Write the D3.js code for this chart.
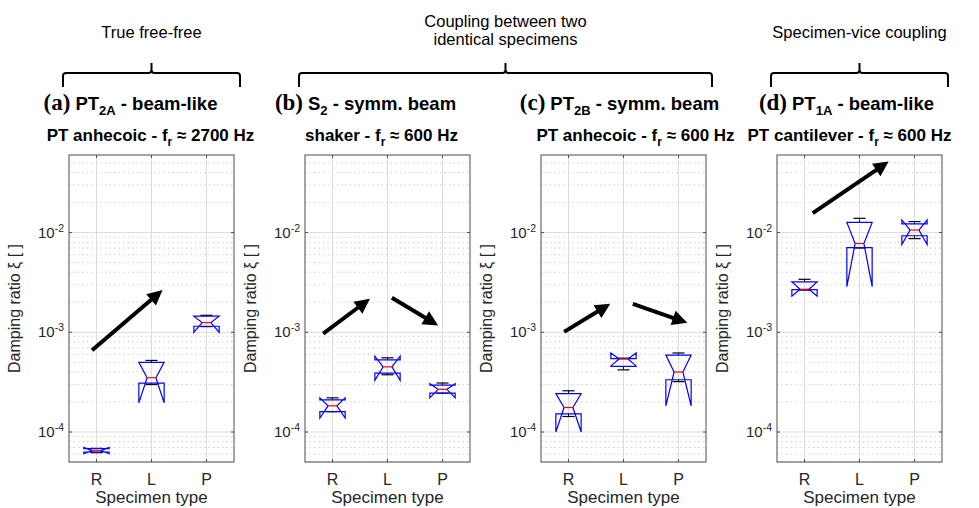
<!DOCTYPE html>
<html>
<head>
<meta charset="utf-8">
<script src="https://cdn.jsdelivr.net/npm/d3@7"></script>
<style>
  body { margin: 0; background: #fff; }
  text { font-family: "Liberation Sans", Arial, sans-serif; fill: #262626; }
</style>
</head>
<body>
<div id="chart"></div>
<script>
// specimen types on the x axis
const categories = ["R", "L", "P"];

// box stats, one row per specimen type:
// [whisker low, q1, median, q3, whisker high, notch low, notch high]
const boxesA = [
  [6.2e-5, 6.3e-5, 6.5e-5, 6.8e-5, 6.85e-5, 6.05e-5, 7.0e-5],
  [2.99e-4, 3.09e-4, 3.5e-4, 4.99e-4, 5.22e-4, 1.96e-4, 4.99e-4],
  [1.14e-3, 1.15e-3, 1.25e-3, 1.45e-3, 1.48e-3, 1.0e-3, 1.45e-3],
];
const boxesB = [
  [1.6e-4, 1.6e-4, 1.83e-4, 2.1e-4, 2.2e-4, 1.38e-4, 2.2e-4],
  [3.75e-4, 3.9e-4, 4.5e-4, 5.3e-4, 5.55e-4, 3.3e-4, 5.75e-4],
  [2.45e-4, 2.45e-4, 2.68e-4, 2.95e-4, 3.1e-4, 2.2e-4, 3.05e-4],
];
const boxesC = [
  [1.43e-4, 1.52e-4, 1.76e-4, 2.43e-4, 2.59e-4, 1.0e-4, 2.43e-4],
  [4.2e-4, 4.55e-4, 5.4e-4, 5.45e-4, 5.5e-4, 4.6e-4, 6.2e-4],
  [3.2e-4, 3.34e-4, 4.0e-4, 5.9e-4, 6.2e-4, 1.83e-4, 5.9e-4],
];
const boxesD = [
  [2.65e-3, 2.68e-3, 2.7e-3, 3.2e-3, 3.4e-3, 2.3e-3, 3.2e-3],
  [7.0e-3, 7.08e-3, 7.77e-3, 1.265e-2, 1.39e-2, 2.87e-3, 1.265e-2],
  [8.7e-3, 9.3e-3, 1.06e-2, 1.22e-2, 1.29e-2, 7.6e-3, 1.34e-2],
];

// trend arrows: [x start, value start, x end, value end] (x in category units)
const arrowsA = [[0.92, 6.6e-4, 2.2, 2.65e-3]];
const arrowsB = [[0.83, 9.7e-4, 1.68, 2.17e-3], [2.08, 2.22e-3, 2.92, 1.17e-3]];
const arrowsC = [[0.92, 1.01e-3, 1.76, 1.93e-3], [2.17, 1.93e-3, 3.16, 1.245e-3]];
const arrowsD = [[1.15, 1.57e-2, 2.53, 5.15e-2]];

// panel titles
const panelLetters = ["(a)", "(b)", "(c)", "(d)"];
const specimenNames = [["PT", "2A", " - beam-like"], ["S", "2", " - symm. beam"],
  ["PT", "2B", " - symm. beam"], ["PT", "1A", " - beam-like"]];
const setups = ["PT anhecoic", "shaker", "PT anhecoic", "PT cantilever"];
const frequencies = ["2700 Hz", "600 Hz", "600 Hz", "600 Hz"];

// group headers and which panels they span
const groupLabels = [["True free-free"], ["Coupling between two", "identical specimens"], ["Specimen-vice coupling"]];
const groupSpans = [[0, 0], [1, 2], [3, 3]];

const yTicks = [1e-4, 1e-3, 1e-2];
const yDomain = [5e-5, 0.06];

const config = {
  width: 979,
  height: 508,
  panelLeft: [69, 305, 541, 777],
  panelWidth: 165,
  top: 155,
  plotHeight: 307,
  titleShift1: [-21, -22, -4, -13],
  titleShift2: [-1, -6, 12, -10],
};

const svg = d3.select("#chart").append("svg")
  .attr("width", config.width)
  .attr("height", config.height);

const x = d3.scaleLinear().domain([0.5, 3.5]).range([0, config.panelWidth]);
const y = d3.scaleLog().domain(yDomain).range([config.plotHeight, 0]);

// minor grid values 2..9 x each decade inside the domain
const minorTicks = [];
[1e-5, 1e-4, 1e-3, 1e-2].forEach((d) => {
  for (let m = 2; m <= 9; m++) {
    const v = m * d;
    if (v > yDomain[0] * 0.999 && v < yDomain[1]) minorTicks.push(v);
  }
});

const panels = [
  { boxes: boxesA, arrows: arrowsA },
  { boxes: boxesB, arrows: arrowsB },
  { boxes: boxesC, arrows: arrowsC },
  { boxes: boxesD, arrows: arrowsD },
];

panels.forEach((p, i) => drawPanel(p, i));
drawGroups();

function drawPanel(p, i) {
  const left = config.panelLeft[i];
  const w = config.panelWidth;
  const h = config.plotHeight;
  const g = svg.append("g").attr("transform", `translate(${left},${config.top})`);

  // minor grid (dotted)
  g.selectAll(".minor").data(minorTicks).join("line")
    .attr("x1", 0).attr("x2", w)
    .attr("y1", (d) => y(d)).attr("y2", (d) => y(d))
    .attr("stroke", "#cfcfcf").attr("stroke-width", 1)
    .attr("stroke-dasharray", "1.5,3");

  // major grid
  g.selectAll(".major").data(yTicks).join("line")
    .attr("x1", 0).attr("x2", w)
    .attr("y1", (d) => y(d)).attr("y2", (d) => y(d))
    .attr("stroke", "#dcdcdc");
  g.selectAll(".vgrid").data(categories).join("line")
    .attr("x1", (d, k) => x(k + 1)).attr("x2", (d, k) => x(k + 1))
    .attr("y1", 0).attr("y2", h)
    .attr("stroke", "#dcdcdc");

  // axes box and inward ticks
  g.append("rect").attr("width", w).attr("height", h)
    .attr("fill", "none").attr("stroke", "#4d4d4d").attr("stroke-width", 1);
  yTicks.forEach((t) => {
    g.append("line").attr("x1", 0).attr("x2", 3).attr("y1", y(t)).attr("y2", y(t)).attr("stroke", "#4d4d4d");
    g.append("line").attr("x1", w - 3).attr("x2", w).attr("y1", y(t)).attr("y2", y(t)).attr("stroke", "#4d4d4d");
  });
  categories.forEach((c, k) => {
    g.append("line").attr("x1", x(k + 1)).attr("x2", x(k + 1)).attr("y1", h).attr("y2", h - 3).attr("stroke", "#4d4d4d");
    g.append("line").attr("x1", x(k + 1)).attr("x2", x(k + 1)).attr("y1", 0).attr("y2", 3).attr("stroke", "#4d4d4d");
  });

  // y tick labels 10^n
  yTicks.forEach((t) => {
    const txt = g.append("text")
      .attr("x", -5).attr("y", y(t) + 5)
      .attr("text-anchor", "end")
      .style("font-size", "15px");
    txt.append("tspan").text("10");
    txt.append("tspan").attr("dy", -6).style("font-size", "10.5px").text("-" + Math.round(-Math.log10(t)));
  });

  // x tick labels
  g.selectAll(".xlab").data(categories).join("text")
    .attr("x", (d, k) => x(k + 1)).attr("y", h + 23)
    .attr("text-anchor", "middle")
    .style("font-size", "16px")
    .text((d) => d);

  g.append("text")
    .attr("x", w / 2).attr("y", h + 41)
    .attr("text-anchor", "middle")
    .style("font-size", "17px")
    .text("Specimen type");

  g.append("text")
    .attr("transform", `translate(${-49},${h / 2}) rotate(-90)`)
    .attr("text-anchor", "middle")
    .style("font-size", "16px")
    .text("Damping ratio \u03BE [ ]");

  // notched boxes
  const hw = 0.23, nw = 0.08, cw = 0.11;
  p.boxes.forEach((b, k) => {
    const cx = k + 1;
    const [wlo, q1, med, q3, whi, nlo, nhi] = b;
    // whiskers
    g.append("line").attr("x1", x(cx)).attr("x2", x(cx)).attr("y1", y(q3)).attr("y2", y(whi))
      .attr("stroke", "#000").attr("stroke-dasharray", "3,2");
    g.append("line").attr("x1", x(cx)).attr("x2", x(cx)).attr("y1", y(q1)).attr("y2", y(wlo))
      .attr("stroke", "#000").attr("stroke-dasharray", "3,2");
    [wlo, whi].forEach((v) => {
      g.append("line").attr("x1", x(cx - cw)).attr("x2", x(cx + cw)).attr("y1", y(v)).attr("y2", y(v))
        .attr("stroke", "#000").attr("stroke-width", 1.2);
    });
    const pts = [
      [cx - hw, q1], [cx - hw, nlo], [cx - nw, med], [cx - hw, nhi], [cx - hw, q3],
      [cx + hw, q3], [cx + hw, nhi], [cx + nw, med], [cx + hw, nlo], [cx + hw, q1],
    ];
    g.append("path")
      .attr("d", d3.line().x((d) => x(d[0])).y((d) => y(d[1]))(pts) + "Z")
      .attr("fill", "none").attr("stroke", "#0000ff").attr("stroke-width", 1.2);
    g.append("line").attr("x1", x(cx - nw)).attr("x2", x(cx + nw)).attr("y1", y(med)).attr("y2", y(med))
      .attr("stroke", "#ff0000").attr("stroke-width", 1.2);
  });

  // arrows
  p.arrows.forEach((a) => {
    const x0 = x(a[0]), y0 = y(a[1]), x1 = x(a[2]), y1 = y(a[3]);
    const len = Math.hypot(x1 - x0, y1 - y0);
    const ux = (x1 - x0) / len, uy = (y1 - y0) / len;
    const headL = 15, headW = 7.5;
    const bx = x1 - ux * headL, by = y1 - uy * headL;
    g.append("line").attr("x1", x0).attr("y1", y0).attr("x2", bx + ux * 2).attr("y2", by + uy * 2)
      .attr("stroke", "#000").attr("stroke-width", 4);
    g.append("path")
      .attr("d", `M${x1},${y1}L${bx - uy * headW},${by + ux * headW}L${bx + uy * headW},${by - ux * headW}Z`)
      .attr("fill", "#000");
  });

  // titles
  const cxp = left + w / 2;
  const t1 = svg.append("text")
    .attr("x", cxp + config.titleShift1[i]).attr("y", 110)
    .attr("text-anchor", "middle")
    .style("font-weight", "bold").style("font-size", "18.5px").style("fill", "#000");
  t1.append("tspan").style("font-family", "'Liberation Serif', 'Times New Roman', serif")
    .style("font-size", "23px").text(panelLetters[i]);
  t1.append("tspan").attr("dx", 5).text(specimenNames[i][0]);
  t1.append("tspan").attr("dy", 5).style("font-size", "13px").text(specimenNames[i][1]);
  t1.append("tspan").attr("dy", -5).text(specimenNames[i][2]);

  const t2 = svg.append("text")
    .attr("x", cxp + config.titleShift2[i]).attr("y", 141)
    .attr("text-anchor", "middle")
    .style("font-weight", "bold").style("font-size", "17px").style("fill", "#000");
  t2.append("tspan").text(setups[i] + " - f");
  t2.append("tspan").attr("dy", 5).style("font-size", "12px").text("r");
  t2.append("tspan").attr("dy", -5).text(" \u2248 " + frequencies[i]);
}

function drawGroups() {
  groupLabels.forEach((lines, gi) => {
    const [a, b] = groupSpans[gi];
    const x0 = config.panelLeft[a] - 6;
    const x1 = config.panelLeft[b] + config.panelWidth + 6;
    const xm = (x0 + x1) / 2;
    // curly bracket
    svg.append("path")
      .attr("d", `M${x0},87 L${x0},76 Q${x0},73 ${x0 + 3},73 L${xm - 3},73 Q${xm},73 ${xm},70 L${xm},63 ` +
        `M${xm},70 Q${xm},73 ${xm + 3},73 L${x1 - 3},73 Q${x1},73 ${x1},76 L${x1},87`)
      .attr("fill", "none").attr("stroke", "#000").attr("stroke-width", 2);
    const baseY = lines.length === 1 ? 38 : 27;
    lines.forEach((l, li) => {
      svg.append("text")
        .attr("x", xm).attr("y", baseY + li * 18)
        .attr("text-anchor", "middle")
        .style("font-size", "16.5px").style("fill", "#000")
        .text(l);
    });
  });
}
</script>
</body>
</html>
